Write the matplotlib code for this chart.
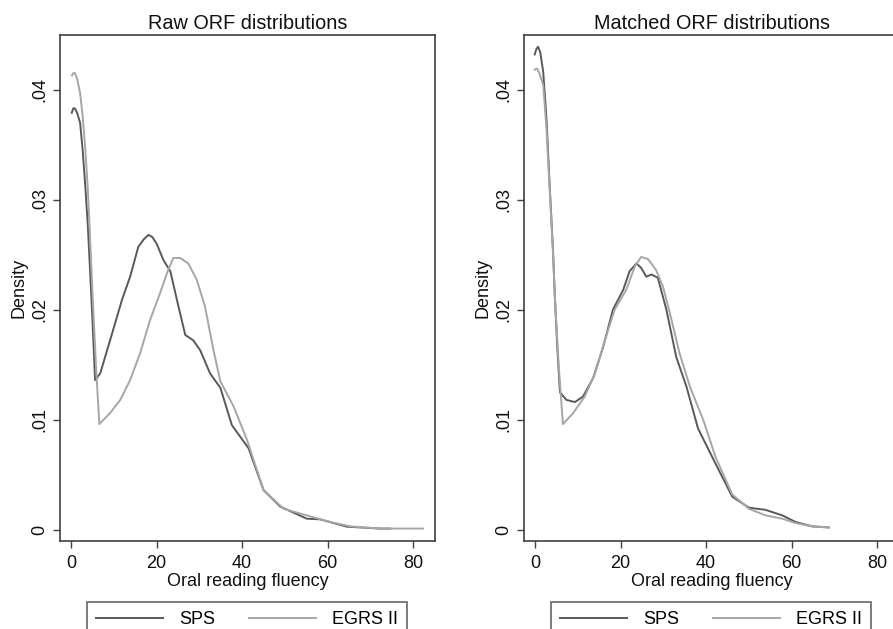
import numpy as np
import matplotlib.pyplot as plt

plt.rcParams["font.family"] = ["Liberation Sans", "DejaVu Sans"]

# kernel density curves (x = ORF, y = density)
raw_sps_x = [0.15, 0.5, 0.9, 1.4, 2.1, 2.7, 3.3, 3.9, 4.4, 5.0, 5.6, 6.8, 9.1, 11.9,
             13.8, 15.7, 17.0, 18.1, 19.0, 20.0, 21.6, 23.2, 25.1, 26.7, 28.6,
             30.2, 32.5, 34.9, 37.6, 41.5, 45.0, 48.9, 55.1, 58.2, 64.5, 72.3, 74.6]
raw_sps_y = [0.0379, 0.0383, 0.0383, 0.0379, 0.0370, 0.0345, 0.0313, 0.0277, 0.0238,
             0.0190, 0.0136, 0.0142, 0.0172, 0.0209, 0.0230, 0.0257, 0.0264, 0.0268,
             0.0266, 0.0260, 0.0245, 0.0235, 0.0203, 0.0177, 0.0172, 0.0163,
             0.0142, 0.0129, 0.0095, 0.0074, 0.0036, 0.0021, 0.0010, 0.00094,
             0.00027, 0.0001, 0.0001]

raw_egrs_x = [0.2, 0.5, 0.9, 1.4, 2.1, 2.7, 3.3, 3.9, 4.4, 5.0, 5.8, 6.6, 9.1, 11.5,
              13.8, 16.1, 18.5, 20.8, 22.4, 23.9, 25.5, 27.4, 29.4, 31.3, 33.3,
              34.9, 38.0, 41.1, 45.0, 49.7, 55.1, 60.6, 65.3, 72.3, 82.3]
raw_egrs_y = [0.0413, 0.0415, 0.0415, 0.0410, 0.0397, 0.0376, 0.0347, 0.0310, 0.0268,
              0.0215, 0.0150, 0.0096, 0.0106, 0.0118, 0.0136, 0.0160, 0.0191, 0.0215,
              0.0233, 0.0247, 0.0247, 0.0242, 0.0227, 0.0203, 0.0163, 0.0135,
              0.0112, 0.0082, 0.0036, 0.0019, 0.0013, 0.0007, 0.0003, 0.0001, 0.0001]

match_sps_x = [-0.1, 0.3, 0.7, 1.2, 1.9, 2.65, 3.4, 4.2, 4.6, 5.2, 5.8, 7.3, 9.3,
               11.2, 13.6, 15.9, 18.2, 20.6, 22.1, 23.7, 24.8, 26.0, 27.2, 28.7,
               30.7, 33.0, 35.4, 38.1, 42.2, 46.1, 50.0, 53.9, 57.8, 60.9, 64.8, 68.7]
match_sps_y = [0.0432, 0.0437, 0.0439, 0.0434, 0.0416, 0.0374, 0.0313, 0.0253, 0.0213,
               0.0165, 0.0125, 0.0118, 0.0116, 0.0121, 0.0138, 0.0166, 0.0200,
               0.0218, 0.0235, 0.0242, 0.0238, 0.0230, 0.0232, 0.0229, 0.0200,
               0.0157, 0.0130, 0.0092, 0.0060, 0.0030, 0.0020, 0.0018, 0.0013,
               0.0007, 0.0003, 0.0002]

match_egrs_x = [-0.1, 0.2, 0.5, 1.0, 1.9, 2.65, 3.4, 4.2, 4.6, 5.5, 6.5, 8.9, 11.6,
                14.0, 16.3, 18.6, 21.3, 23.3, 24.8, 26.4, 28.3, 29.9, 31.5, 33.8,
                36.2, 39.3, 42.2, 46.1, 50.0, 53.9, 57.8, 60.9, 64.8, 68.7]
match_egrs_y = [0.0418, 0.0419, 0.0419, 0.0415, 0.0404, 0.0365, 0.0310, 0.0250,
                0.0213, 0.0150, 0.0096, 0.0106, 0.0121, 0.0142, 0.0172, 0.0200,
                0.0218, 0.0239, 0.0248, 0.0246, 0.0236, 0.0221, 0.0197, 0.0160,
                0.0130, 0.0100, 0.0066, 0.0032, 0.0019, 0.0013, 0.0010, 0.0006,
                0.0003, 0.0002]

titles = ["Raw ORF distributions", "Matched ORF distributions"]
series_names = ["SPS", "EGRS II"]
xticks = [0, 20, 40, 60, 80]
yticks = [0, 0.01, 0.02, 0.03, 0.04]
ytick_labels = ["0", ".01", ".02", ".03", ".04"]

SPS_COLOR = "#595959"
EGRS_COLOR = "#a6a6a6"
FRAME = "#404040"

fig = plt.figure(figsize=(8.93, 6.29), dpi=100)
ax_w = 375 / 893
ax_h = 506 / 629
ax_b = 1 - 541 / 629
lefts = [60 / 893, 524 / 893]

panels = [(raw_sps_x, raw_sps_y, raw_egrs_x, raw_egrs_y),
          (match_sps_x, match_sps_y, match_egrs_x, match_egrs_y)]

for i, (sx, sy, ex, ey) in enumerate(panels):
    ax = fig.add_axes([lefts[i], ax_b, ax_w, ax_h])
    ax.plot(sx, sy, color=SPS_COLOR, lw=1.4, label=series_names[0])
    ax.plot(ex, ey, color=EGRS_COLOR, lw=1.4, label=series_names[1])
    ax.set_xlim(-2.6, 85.1)
    ax.set_ylim(-0.00103, 0.04497)
    ax.set_xticks(xticks)
    ax.set_yticks(yticks)
    ax.set_yticklabels(ytick_labels, rotation=90, va="center")
    ax.tick_params(direction="out", length=5, width=1, colors=FRAME,
                   labelcolor="#111111", labelsize=13)
    ax.tick_params(axis="x", pad=5)
    for sp in ax.spines.values():
        sp.set_color(FRAME)
        sp.set_linewidth(1.2)
    ax.set_title(titles[i], fontsize=14.3, color="#111111", pad=4)
    ax.set_xlabel("Oral reading fluency", fontsize=13, color="#111111", labelpad=1)
    ax.set_ylabel("Density", fontsize=13, color="#111111", labelpad=3)
    leg = ax.legend(ncol=2, loc="upper left", mode="expand",
                    bbox_to_anchor=(0.072, -0.1306, 0.853, 0.01),
                    borderaxespad=0, fancybox=False, fontsize=13,
                    handlelength=3.7, handletextpad=0.9, borderpad=0.5)
    leg.get_frame().set_edgecolor(FRAME)
    leg.get_frame().set_linewidth(1.2)

fig.savefig("out.png", dpi=100)
